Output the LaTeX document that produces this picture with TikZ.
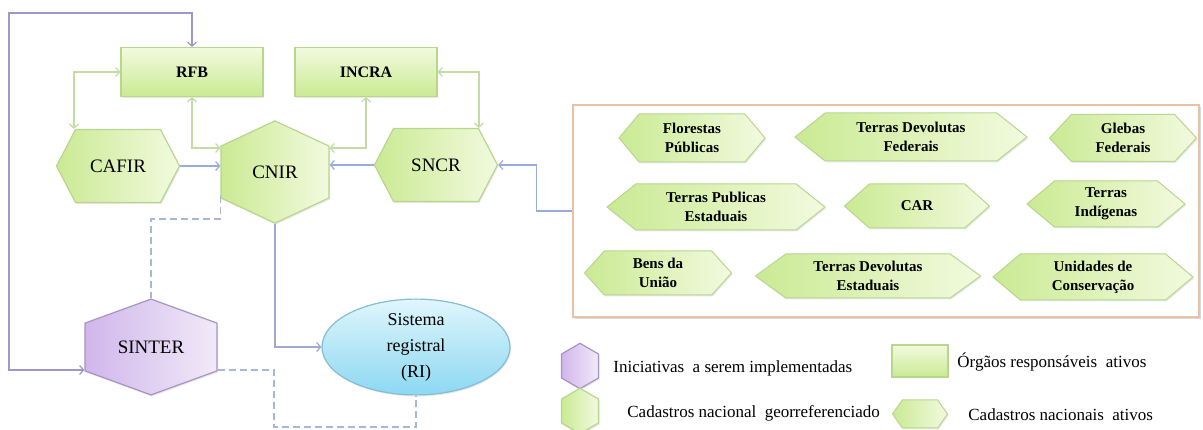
\documentclass[tikz,border=0pt]{standalone}
\usepackage{fontspec}
\setmainfont{Liberation Serif}
\usetikzlibrary{shapes.symbols,shapes.geometric,arrows.meta,calc,shadows}

\definecolor{leafdraw}{HTML}{B9D68E}
\definecolor{leaflight}{HTML}{F2FADF}
\definecolor{leafdark}{HTML}{CAEA93}
\definecolor{leafwire}{HTML}{C3DCA1}
\definecolor{bluewire}{HTML}{9AACDD}
\definecolor{lilacwire}{HTML}{9D98C9}
\definecolor{slatewire}{HTML}{A2A8CE}
\definecolor{dashwire}{HTML}{A7B8D7}
\definecolor{lilacdraw}{HTML}{A893C5}
\definecolor{lilacdark}{HTML}{D0B6EB}
\definecolor{lilaclight}{HTML}{F1EAF8}
\definecolor{skydraw}{HTML}{86BCD4}
\definecolor{skylight}{HTML}{E0F6FC}
\definecolor{skydark}{HTML}{8CD8F2}
\definecolor{peachdraw}{HTML}{E8C2A4}

\tikzset{every picture/.style={line width=0.75pt}}

\begin{document}
\begin{tikzpicture}[
    x=1pt, y=-1pt,
    >={Straight Barb[length=4pt,width=9pt]},
    every node/.style={inner sep=0pt},
    softshadow/.style={drop shadow={opacity=0.18, shadow xshift=1pt, shadow yshift=-1.5pt}},
    organ/.style={rectangle, draw=leafdraw, line width=1.2pt, top color=leaflight, bottom color=leafdark,
        softshadow, font=\bfseries\fontsize{16}{18}\selectfont},
    mainhex/.style={signal, signal to=west and east, draw=leafdraw, line width=1.2pt,
        left color=leafdark, right color=leaflight, softshadow, font=\fontsize{19}{22}\selectfont},
    georhex/.style={signal, signal to=north and south, draw=leafdraw, line width=1.2pt,
        left color=leafdark, right color=leaflight, softshadow, font=\fontsize{19}{22}\selectfont},
    sinterhex/.style={signal, signal to=north and south, draw=lilacdraw, line width=1.2pt,
        left color=lilacdark, right color=lilaclight, softshadow, font=\fontsize{19}{22}\selectfont},
    registry/.style={ellipse, draw=skydraw, line width=1.2pt, top color=skylight, bottom color=skydark,
        softshadow, align=center, font=\fontsize{18}{26}\selectfont},
    cadbox/.style={rectangle, draw=peachdraw, line width=1.5pt, fill=white,
        drop shadow={opacity=0.3, shadow xshift=1.5pt, shadow yshift=-2.5pt}},
    cadhex/.style={signal, signal to=west and east, draw=leafdraw, line width=1pt,
        left color=leafdark, right color=leaflight, softshadow, align=center,
        font=\bfseries\fontsize{15}{19}\selectfont},
    legend/.style={anchor=west, font=\fontsize{17}{20}\selectfont},
    wire/.style={line width=1.2pt},
]

    \useasboundingbox (0,0) rectangle (1203,430);

    \node[organ, minimum width=142pt, minimum height=49pt] (rfb) at (192,72) {RFB};
    \node[organ, minimum width=142pt, minimum height=49pt] (incra) at (366,72) {INCRA};

    \node[mainhex, minimum width=123pt, minimum height=73pt, signal pointer angle=125] (cafir) at (118,166) {CAFIR};
    \node[georhex, minimum width=108pt, minimum height=73pt, signal pointer angle=130] (cnir) at (275,172) {CNIR};
    \node[mainhex, minimum width=123pt, minimum height=73pt, signal pointer angle=125] (sncr) at (436,165) {SNCR};

    \node[sinterhex, minimum width=132pt, minimum height=72pt, signal pointer angle=140] (sinter) at (151,347) {SINTER};
    \node[registry, minimum width=188pt, minimum height=95pt] (ri) at (416,347) {Sistema\\registral\\(RI)};

    \node[cadbox, minimum width=626pt, minimum height=212pt] (cadbox) at (886,211) {};

    \node[cadhex, minimum width=146pt, minimum height=48pt, signal pointer angle=100] (flor) at (692,138) {Florestas\\Públicas};
    \node[cadhex, minimum width=232pt, minimum height=48pt, signal pointer angle=77] (tdfed) at (911,137) {Terras Devolutas\\Federais};
    \node[cadhex, minimum width=147pt, minimum height=47pt, signal pointer angle=94] (glebas) at (1123,138) {Glebas\\Federais};
    \node[cadhex, minimum width=218pt, minimum height=46pt, signal pointer angle=77] (tpest) at (716,207) {Terras Publicas\\Estaduais};
    \node[cadhex, minimum width=145pt, minimum height=44pt, signal pointer angle=83] (car) at (917,206) {CAR};
    \node[cadhex, minimum width=158pt, minimum height=46pt, signal pointer angle=80] (tind) at (1106,204) {Terras\\Indígenas};
    \node[cadhex, minimum width=147pt, minimum height=44pt, signal pointer angle=96] (bens) at (658,273) {Bens da\\União};
    \node[cadhex, minimum width=225pt, minimum height=44pt, signal pointer angle=72] (tdest) at (868,276) {Terras Devolutas\\Estaduais};
    \node[cadhex, minimum width=200pt, minimum height=46pt, signal pointer angle=80] (ucons) at (1093,277) {Unidades de\\Conservação};

    \node[sinterhex, minimum width=37pt, minimum height=24pt, signal pointer angle=120] (lgsinter) at (580,366) {};
    \node[legend] (lginit) at (613,368) {Iniciativas \ a serem implementadas};
    \node[organ, minimum width=56pt, minimum height=32pt] (lgorgan) at (920,361) {};
    \node[legend] (lgorgantext) at (957,362) {Órgãos responsáveis \ ativos};
    \node[georhex, minimum width=37pt, minimum height=24pt, signal pointer angle=120] (lggeo) at (580,411) {};
    \node[legend] (lggeotext) at (627,413) {Cadastros nacional \ georreferenciado};
    \node[cadhex, minimum width=55pt, minimum height=28pt, signal pointer angle=110] (lgcad) at (920,414) {};
    \node[legend] (lgcadtext) at (968,415) {Cadastros nacionais \ ativos};

    \coordinate (loop) at (9,13);
    \coordinate (dip) at (274,427);

    \draw[wire, lilacwire, <->] (rfb.north) |- (loop) |- ($(sinter.west)+(0,23)$);
    \draw[wire, leafwire, <->] (rfb.west) -| ($(cafir.north)+(-44,0)$);
    \draw[wire, leafwire, <->] (rfb.south) |- ($(cnir.west)+(0,-24)$);
    \draw[wire, leafwire, <->] (incra.south) |- ($(cnir.east)+(0,-24)$);
    \draw[wire, leafwire, <->] (incra.east) -| ($(sncr.north)+(43,0)$);
    \draw[wire, bluewire, ->] (cafir.east) -- (cafir.east -| cnir.west);
    \draw[wire, bluewire, ->] (sncr.west) -- (sncr.west -| cnir.east);
    \draw[wire, bluewire, ->] (cadbox.west) -- ++(-36,0) |- (sncr.east);
    \draw[wire, slatewire, ->] (cnir.south) |- (ri.west);
    \draw[wire, dashwire, dash pattern=on 7pt off 4pt] ($(cnir.west)+(0,24)$) -- ++(0,23) -| (sinter.north);
    \draw[wire, dashwire, dash pattern=on 7pt off 4pt] ($(sinter.east)+(0,23)$) -| (dip) -| (ri.south);
\end{tikzpicture}
\end{document}
